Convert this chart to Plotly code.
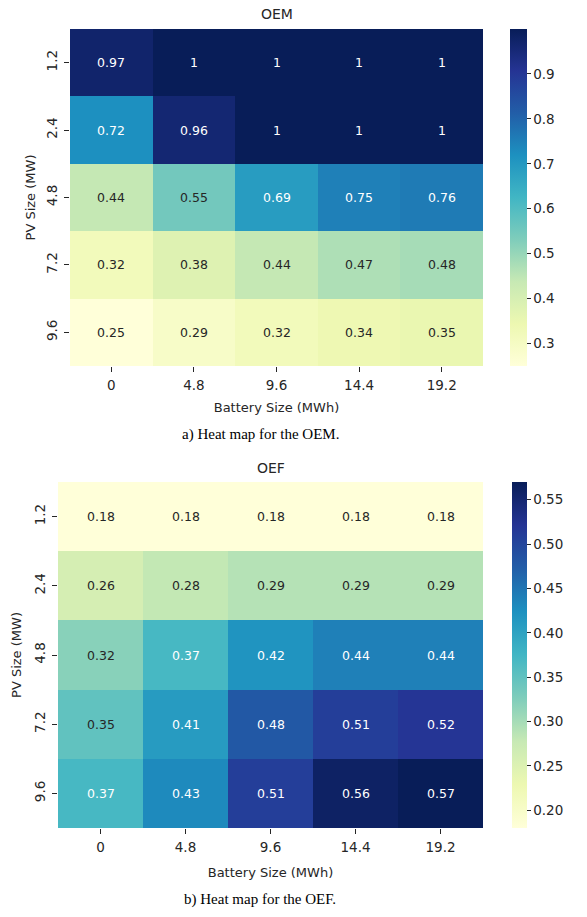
import plotly.graph_objects as go
import plotly.colors as pc

# ---------------- data ----------------
battery_sizes = ["0", "4.8", "9.6", "14.4", "19.2"]      # MWh (x)
pv_sizes = ["1.2", "2.4", "4.8", "7.2", "9.6"]            # MW (y)

oem_values = [
    [0.97, 1.00, 1.00, 1.00, 1.00],
    [0.72, 0.96, 1.00, 1.00, 1.00],
    [0.44, 0.55, 0.69, 0.75, 0.76],
    [0.32, 0.38, 0.44, 0.47, 0.48],
    [0.25, 0.29, 0.32, 0.34, 0.35],
]
oef_values = [
    [0.18, 0.18, 0.18, 0.18, 0.18],
    [0.26, 0.28, 0.29, 0.29, 0.29],
    [0.32, 0.37, 0.42, 0.44, 0.44],
    [0.35, 0.41, 0.48, 0.51, 0.52],
    [0.37, 0.43, 0.51, 0.56, 0.57],
]
oem_cbar_ticks = [0.3, 0.4, 0.5, 0.6, 0.7, 0.8, 0.9]
oef_cbar_ticks = [0.20, 0.25, 0.30, 0.35, 0.40, 0.45, 0.50, 0.55]

# ---------------- style ----------------
W, H = 587, 917
cols = pc.sequential.YlGnBu
scale = [[i / (len(cols) - 1), c] for i, c in enumerate(cols)]
FONT = "DejaVu Sans"
TXT = "#262626"


def px_x(v):
    return v / W


def px_y(v):
    return 1 - v / H


def lum(rgbstr):
    r, g, b = [float(t) / 255 for t in rgbstr[rgbstr.find("(") + 1:-1].split(",")]
    def lin(c):
        return c / 12.92 if c <= 0.03928 else ((c + 0.055) / 1.055) ** 2.4
    return 0.2126 * lin(r) + 0.7152 * lin(g) + 0.0722 * lin(b)


fig = go.Figure()
annotations = []

panels = [
    dict(z=oem_values, ticks=oem_cbar_ticks, fmt=".1f", name="OEM",
         caption="a) Heat map for the OEM.",
         x0=70, x1=483, y0=29, y1=366, cbx=510, cbw=17, xa="x", ya="y",
         title_y=14, cap_y=434, xst=10, yst=5),
    dict(z=oef_values, ticks=oef_cbar_ticks, fmt=".2f", name="OEF",
         caption="b) Heat map for the OEF.",
         x0=58, x1=483, y0=482, y1=828, cbx=512, cbw=15, xa="x2", ya="y2",
         title_y=468, cap_y=899, xst=13, yst=7),
]

for i, p in enumerate(panels):
    z = p["z"]
    zmin = min(min(r) for r in z)
    zmax = max(max(r) for r in z)
    fig.add_trace(go.Heatmap(
        z=z, x=battery_sizes, y=pv_sizes, colorscale=scale,
        zmin=zmin, zmax=zmax, xaxis=p["xa"], yaxis=p["ya"],
        colorbar=dict(
            x=px_x(p["cbx"]), xanchor="left", thickness=p["cbw"],
            len=(p["y1"] - p["y0"]) / H, lenmode="fraction",
            y=px_y((p["y0"] + p["y1"]) / 2), yanchor="middle",
            outlinewidth=0, tickvals=p["ticks"], tickformat=p["fmt"],
            ticks="outside", ticklen=4, tickcolor=TXT,
            tickfont=dict(family=FONT, size=13.5, color=TXT),
            xpad=0, ypad=0,
        ),
    ))
    # cell annotations (category index positions on the category axes)
    for r in range(len(pv_sizes)):
        for c in range(len(battery_sizes)):
            v = z[r][c]
            t = (v - zmin) / (zmax - zmin)
            col = pc.sample_colorscale(scale, [t])[0]
            fc = TXT if lum(col) > 0.408 else "white"
            annotations.append(dict(
                x=c, y=r, xref=p["xa"], yref=p["ya"], text=format(v, ".2g"),
                showarrow=False, font=dict(family=FONT, size=12.5, color=fc),
            ))
    # title
    annotations.append(dict(
        x=px_x((p["x0"] + p["x1"]) / 2), y=px_y(p["title_y"]), xref="paper", yref="paper",
        text=p["name"], showarrow=False, xanchor="center", yanchor="middle",
        font=dict(family=FONT, size=14, color=TXT),
    ))
    # caption
    annotations.append(dict(
        x=px_x(260), y=px_y(p["cap_y"]), xref="paper", yref="paper",
        text=p["caption"], showarrow=False, xanchor="center", yanchor="middle",
        font=dict(family="Liberation Serif", size=15, color="black"),
    ))

    xkey = "xaxis" if i == 0 else "xaxis2"
    ykey = "yaxis" if i == 0 else "yaxis2"
    fig.update_layout(**{
        xkey: dict(
            type="category",
            domain=[px_x(p["x0"]), px_x(p["x1"])], anchor=p["ya"],
            title=dict(text="Battery Size (MWh)", standoff=p["xst"],
                       font=dict(family=FONT, size=13, color=TXT)),
            ticks="outside", ticklen=5, tickcolor=TXT, showgrid=False,
            zeroline=False, showline=False, tickangle=0, ticklabelstandoff=2,
            tickfont=dict(family=FONT, size=13.5, color=TXT),
        ),
        ykey: dict(
            type="category",
            domain=[px_y(p["y1"]), px_y(p["y0"])], anchor=p["xa"],
            autorange="reversed",
            title=dict(text="PV Size (MW)", standoff=p["yst"],
                       font=dict(family=FONT, size=13, color=TXT)),
            ticks="outside", ticklen=5, tickcolor=TXT, showgrid=False,
            zeroline=False, showline=False, tickangle=-90, ticklabelstandoff=2,
            tickfont=dict(family=FONT, size=13.5, color=TXT),
        ),
    })

fig.update_layout(
    width=W, height=H,
    margin=dict(l=0, r=0, t=0, b=0),
    paper_bgcolor="white", plot_bgcolor="white",
    annotations=annotations,
    showlegend=False,
)

fig.write_html("out.html", config={"displayModeBar": False},
               post_script="document.body.style.margin='0';document.body.style.overflow='hidden';")
